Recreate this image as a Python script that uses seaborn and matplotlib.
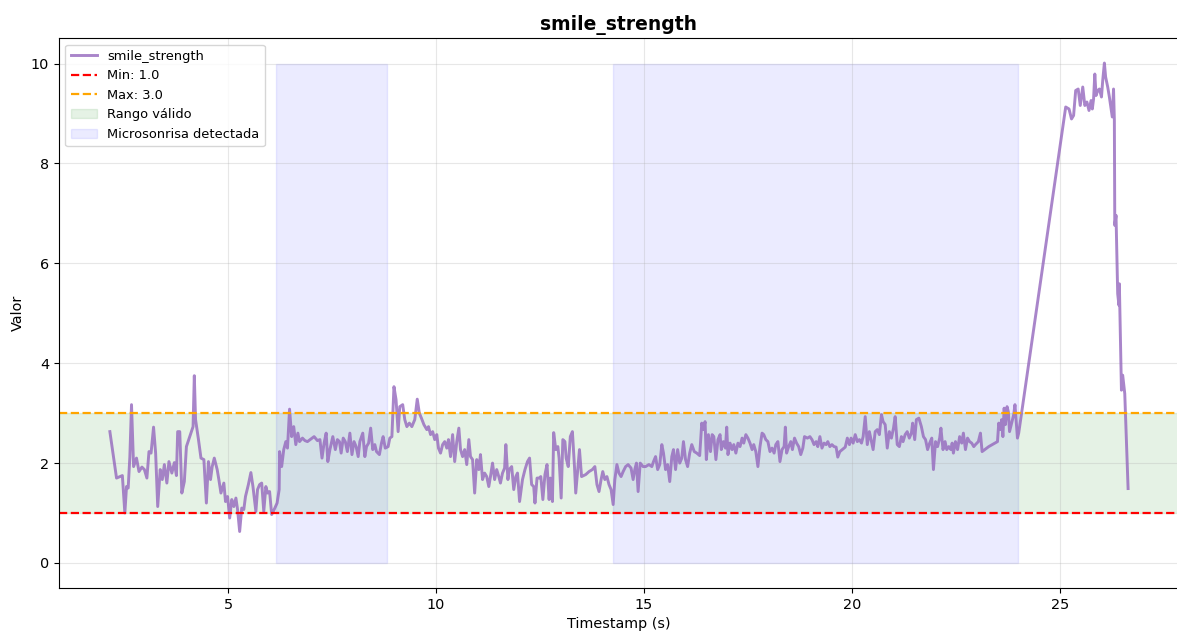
import numpy as np
import pandas as pd
import seaborn as sns
import matplotlib.pyplot as plt

# smile_strength trace in chunks
t_a = [2.16, 2.32, 2.46, 2.52, 2.56, 2.60, 2.64, 2.68, 2.73, 2.80, 2.86, 2.93, 2.99, 3.05, 3.10, 3.15, 3.21, 3.26, 3.31, 3.37,
       3.42, 3.47, 3.53, 3.58, 3.65, 3.71, 3.76, 3.79, 3.84, 3.89, 3.95, 4.00, 4.06, 4.11, 4.16, 4.19, 4.22, 4.29, 4.35, 4.42,
       4.48, 4.53, 4.58, 4.62, 4.67, 4.74, 4.78, 4.83, 4.90, 4.94, 4.99, 5.04, 5.09, 5.14, 5.19, 5.23, 5.28, 5.33, 5.38, 5.42,
       5.49, 5.55, 5.60, 5.67, 5.71, 5.76, 5.81, 5.86, 5.91, 5.95, 6.00, 6.05, 6.11, 6.18, 6.23, 6.24, 6.29, 6.34, 6.39, 6.43,
       6.48, 6.53, 6.58, 6.63, 6.68, 6.72, 6.79, 6.85]
v_a = [2.63, 1.70, 1.75, 1.00, 1.53, 1.50, 2.12, 3.17, 1.93, 2.10, 1.83, 1.92, 1.87, 1.70, 2.23, 2.20, 2.72, 2.20, 1.13, 1.87,
       1.67, 1.97, 1.60, 2.03, 1.80, 2.01, 1.75, 2.63, 2.63, 1.40, 1.63, 2.33, 2.48, 2.60, 2.73, 3.75, 2.87, 2.47, 2.10, 2.07,
       1.20, 2.03, 1.67, 1.93, 2.10, 1.87, 1.67, 1.40, 1.60, 1.23, 1.33, 0.90, 1.27, 1.13, 1.30, 1.07, 0.63, 1.10, 1.07, 1.33,
       1.57, 1.81, 1.53, 1.03, 1.47, 1.57, 1.60, 1.03, 1.53, 1.40, 1.43, 0.97, 1.07, 1.20, 1.47, 2.23, 1.93, 2.27, 2.43, 2.30,
       3.08, 2.53, 2.73, 2.37, 2.60, 2.43, 2.50, 2.45]

t_b = [6.91, 6.99, 7.07, 7.15, 7.21, 7.26, 7.31, 7.36, 7.40, 7.45, 7.52, 7.58, 7.63, 7.68, 7.72, 7.77, 7.82, 7.87, 7.93,
       7.98, 8.03, 8.08, 8.13, 8.17, 8.24, 8.29, 8.33, 8.38, 8.43, 8.48, 8.53, 8.57, 8.64, 8.69, 8.73, 8.78, 8.85, 8.89, 8.94,
       8.99, 9.04, 9.09, 9.13, 9.20, 9.25, 9.30, 9.36, 9.42, 9.49, 9.55, 9.60, 9.65, 9.71, 9.78, 9.82, 9.87, 9.92, 9.97, 10.02,
       10.06, 10.11, 10.16, 10.21, 10.26, 10.30, 10.35, 10.40, 10.45, 10.50, 10.55, 10.59, 10.64, 10.69, 10.74, 10.79, 10.83,
       10.88, 10.93, 10.98, 11.03, 11.07, 11.12, 11.17, 11.22, 11.27, 11.31, 11.36, 11.41, 11.46, 11.51, 11.55, 11.60, 11.65,
       11.68, 11.73]
v_b = [2.43, 2.48, 2.53, 2.45, 2.47, 2.10, 2.40, 2.60, 2.03, 2.27, 2.53, 2.27, 2.47, 2.43, 2.20, 2.50, 2.43, 2.23, 2.60,
       2.17, 2.43, 2.33, 2.13, 2.43, 2.60, 2.13, 2.33, 2.40, 2.70, 2.27, 2.37, 2.23, 2.17, 2.40, 2.53, 2.30, 2.33, 2.50, 2.53,
       3.53, 3.27, 2.63, 3.13, 3.17, 2.87, 2.73, 2.80, 2.73, 2.87, 3.28, 3.00, 2.90, 2.77, 2.67, 2.73, 2.57, 2.63, 2.47, 2.57,
       2.30, 2.20, 2.37, 2.43, 2.30, 2.47, 2.13, 2.57, 2.03, 2.43, 2.70, 2.27, 2.13, 2.27, 1.97, 2.47, 2.13,
       2.07, 1.40, 2.07, 1.87, 2.17, 1.67, 1.80, 1.73, 1.53, 1.73, 2.00, 1.67, 1.87, 1.73, 1.60, 1.80, 1.90,
       2.37, 1.67]

t_c = [11.76, 11.82, 11.87, 11.92, 11.96, 12.01, 12.08, 12.14, 12.20, 12.25, 12.30, 12.35, 12.38, 12.43, 12.48, 12.52,
       12.57, 12.62, 12.67, 12.72, 12.75, 12.80, 12.83, 12.88, 12.93, 12.96, 13.01, 13.05, 13.10, 13.13, 13.18, 13.23,
       13.28, 13.33, 13.36, 13.41, 13.45, 13.50, 13.60, 13.68, 13.76, 13.82, 13.87, 13.92, 13.97, 14.01, 14.06, 14.11,
       14.16, 14.21, 14.26, 14.30, 14.35, 14.40, 14.45, 14.50, 14.56, 14.62, 14.69, 14.74, 14.78, 14.82, 14.86, 14.91,
       14.98, 15.04, 15.12, 15.19, 15.23, 15.28, 15.33, 15.38, 15.43, 15.47, 15.52, 15.57, 15.62, 15.67, 15.71, 15.76,
       15.81, 15.86, 15.91, 15.95, 16.00, 16.05, 16.10, 16.15, 16.21, 16.27, 16.34, 16.39, 16.43, 16.47, 16.50, 16.55,
       16.60, 16.64]
v_c = [1.87, 1.93, 1.47, 1.73, 1.80, 1.23, 1.67, 1.87, 2.03, 2.10, 1.57, 1.53, 1.20, 1.70, 1.70, 1.73,
       1.27, 1.77, 1.97, 1.27, 1.70, 1.23, 2.61, 2.27, 2.33, 2.10, 1.30, 2.47, 2.43, 2.10, 1.93, 2.53,
       2.63, 1.93, 1.40, 1.87, 2.27, 1.73, 1.77, 1.83, 1.87, 1.93, 1.57, 1.43, 1.67, 1.83, 1.67, 1.73,
       1.57, 1.47, 1.17, 1.67, 1.97, 1.80, 1.73, 1.83, 1.93, 1.97, 1.90, 1.67, 1.87, 2.00, 1.43, 2.00,
       1.93, 1.93, 1.97, 1.93, 2.03, 2.13, 1.87, 1.97, 2.37, 2.20, 1.87, 1.97, 1.63, 2.13, 2.27, 1.87,
       2.27, 2.00, 2.10, 2.43, 2.07, 1.93, 2.20, 2.37, 2.23, 2.20, 2.15, 2.80, 2.67, 2.83, 2.07, 2.57,
       2.23, 2.57]

t_d = [16.68, 16.73, 16.78, 16.83, 16.86, 16.91, 16.96, 16.99, 17.02, 17.07, 17.12, 17.16, 17.21, 17.26, 17.31, 17.36,
       17.40, 17.45, 17.50, 17.55, 17.60, 17.64, 17.69, 17.74, 17.79, 17.84, 17.88, 17.93, 17.98, 18.03, 18.08, 18.13,
       18.17, 18.22, 18.27, 18.32, 18.37, 18.40, 18.43, 18.48, 18.53, 18.57, 18.62, 18.67, 18.72, 18.77, 18.82, 18.86,
       18.93, 18.99, 19.04, 19.09, 19.14, 19.18, 19.23, 19.28, 19.33, 19.38, 19.42, 19.47, 19.52, 19.57, 19.62, 19.66,
       19.71, 19.78, 19.84, 19.89, 19.94, 19.98, 20.03, 20.08, 20.13, 20.18, 20.23, 20.27, 20.32, 20.37, 20.42, 20.47,
       20.51, 20.56, 20.61, 20.66, 20.71, 20.75, 20.80, 20.85, 20.90, 20.95, 21.00, 21.04, 21.09, 21.14, 21.19, 21.23,
       21.28, 21.33, 21.38, 21.43, 21.46, 21.51, 21.55]
v_d = [2.53, 2.07, 2.47, 2.57, 2.27, 2.43, 2.30, 2.72, 2.17, 2.40, 2.27, 2.37, 2.20, 2.40, 2.33, 2.50,
       2.40, 2.57, 2.50, 2.40, 2.27, 2.37, 2.23, 1.93, 2.33, 2.60, 2.57, 2.47, 2.43, 2.23, 2.30, 2.20,
       2.37, 2.43, 2.03, 2.27, 2.33, 2.72, 2.20, 2.33, 2.43, 2.27, 2.50, 2.40, 2.33, 2.17, 2.30, 2.53,
       2.50, 2.53, 2.47, 2.37, 2.43, 2.33, 2.53, 2.30, 2.40, 2.37, 2.43, 2.33, 2.37, 2.33, 2.32, 2.12,
       2.23, 2.28, 2.32, 2.50, 2.37, 2.50, 2.40, 2.57, 2.43, 2.47, 2.40, 2.53, 2.93, 2.37, 2.63, 2.43,
       2.27, 2.63, 2.67, 2.57, 2.97, 2.83, 2.77, 2.30, 2.63, 2.50, 2.70, 2.93, 2.37, 2.33, 2.53, 2.43,
       2.57, 2.63, 2.50, 2.60, 2.80, 2.47, 2.87]

t_e = [21.61, 21.67, 21.72, 21.77, 21.82, 21.87, 21.92, 21.96, 22.01, 22.06, 22.11, 22.14, 22.19, 22.24, 22.28, 22.33,
       22.38, 22.41, 22.44, 22.49, 22.54, 22.59, 22.64, 22.68, 22.73, 22.78, 22.83, 22.88, 22.93, 22.97, 23.04, 23.09,
       23.13, 23.29, 23.50, 23.53, 23.57, 23.60, 23.63, 23.66, 23.69, 23.73, 23.76, 23.79, 23.84, 23.89, 23.92, 23.95,
       23.98, 24.01]
v_e = [2.90, 2.73, 2.53, 2.47, 2.27, 2.40, 2.50, 1.87, 2.43, 2.33, 2.50, 2.70, 2.27, 2.43, 2.27, 2.33,
       2.27, 2.40, 2.20, 2.43, 2.27, 2.53, 2.40, 2.60, 2.27, 2.50, 2.43, 2.40, 2.33, 2.37, 2.43, 2.60,
       2.23, 2.33, 2.43, 2.80, 2.67, 2.87, 2.53, 3.10, 2.77, 3.13, 3.03, 2.63, 2.80, 2.97, 3.17, 2.83,
       2.50, 2.60]

t_f = [25.14, 25.22, 25.28, 25.33, 25.38, 25.44, 25.49, 25.55, 25.60, 25.65, 25.70, 25.75, 25.78, 25.81, 25.84, 25.87,
       25.91, 25.95, 26.00, 26.03, 26.07, 26.10, 26.15, 26.19, 26.26, 26.29, 26.31, 26.32, 26.35, 26.39, 26.42, 26.43,
       26.48, 26.51, 26.56, 26.64]
v_f = [9.13, 9.09, 8.89, 8.96, 9.46, 9.49, 9.16, 9.53, 9.16, 9.23, 9.06, 9.26, 9.09, 9.29, 9.79, 9.36,
       9.46, 9.49, 9.33, 9.66, 10.01, 9.73, 9.53, 9.33, 8.93, 9.49, 8.86, 6.76, 6.96, 5.39, 5.16, 5.59,
       3.46, 3.76, 3.39, 1.49]

min_val = 1.0
max_val = 3.0
micro_spans = [(6.15, 8.82), (14.25, 23.99)]
span_top = 10.0

df = pd.DataFrame({
    "timestamp": t_a + t_b + t_c + t_d + t_e + t_f,
    "smile_strength": v_a + v_b + v_c + v_d + v_e + v_f,
})

fig, ax = plt.subplots(figsize=(11.77, 6.34), dpi=100)
plt.subplots_adjust(left=0.0501, right=1.0017, top=0.94, bottom=0.0726)

sns.lineplot(data=df, x="timestamp", y="smile_strength", ax=ax, color="#9467bd", alpha=0.8,
             linewidth=2.1, label="smile_strength", estimator=None, sort=False)
ax.axhline(min_val, color="red", linestyle="--", linewidth=1.6, label=f"Min: {min_val}")
ax.axhline(max_val, color="orange", linestyle="--", linewidth=1.6, label=f"Max: {max_val}")
ax.axhspan(min_val, max_val, color="green", alpha=0.1, label="Rango válido")
for i, (s, e) in enumerate(micro_spans):
    ax.fill_between([s, e], 0, span_top, color="blue", alpha=0.08,
                    label="Microsonrisa detectada" if i == 0 else None)

ax.set_title("smile_strength", fontsize=13.5, fontweight="bold")
ax.set_xlabel("Timestamp (s)", fontsize=10.4)
ax.set_ylabel("Valor", fontsize=10.4)
ax.tick_params(labelsize=10.4)
ax.grid(True, alpha=0.3)
ax.legend(loc="upper left", fontsize=9.4)

plt.savefig("out.png", dpi=100)
